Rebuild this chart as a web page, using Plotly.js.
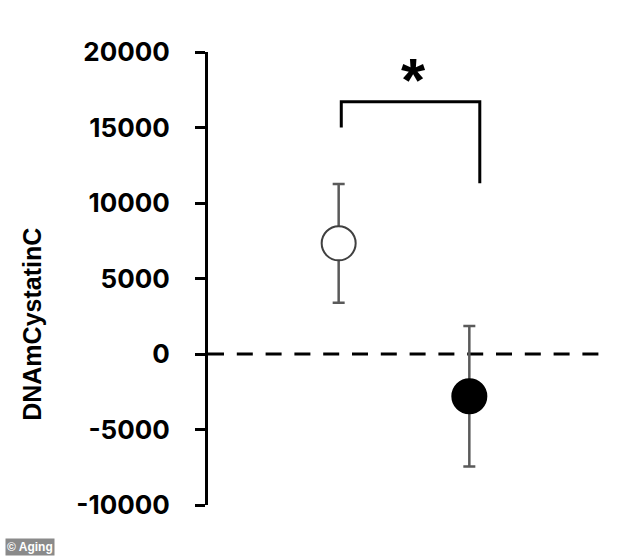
<!DOCTYPE html>
<html>
<head>
<meta charset="utf-8">
<script src="https://cdn.plot.ly/plotly-3.0.1.min.js"></script>
<style>html,body{margin:0;padding:0;background:#fff;}#chart{width:634px;height:557px;}</style>
</head>
<body>
<div id="chart"></div>
<script>
// Data
const groupX = [1, 2];
const groupMean = [7330, -2800];
const groupErr = [3930, 4650];
const markerFill = ['#ffffff', '#000000'];
const markerLine = ['#404040', '#000000'];

const yTickVals = [-10000, -5000, 0, 5000, 10000, 15000, 20000];
const yTickText = ['-10000', '-5000', '0', '5000', '10000', '15000', '20000'];

const bracketX = [1.02, 1.02, 2.08, 2.08];
const bracketY = [15000, 16700, 16700, 11300];
const starX = 1.57;
const starY = 18150;

const yTitle = 'DNAmCystatinC';
const credit = '© Aging';

const traces = [];
for (let i = 0; i < groupX.length; i++) {
  traces.push({
    type: 'scatter', mode: 'markers',
    x: [groupX[i]], y: [groupMean[i]],
    error_y: {type: 'data', array: [groupErr[i]], visible: true, color: '#5a5a5a', thickness: 2.5, width: 6},
    marker: {size: 34, color: markerFill[i], line: {color: markerLine[i], width: 2}},
    showlegend: false, hoverinfo: 'skip'
  });
}
traces.push({
  type: 'scatter', mode: 'lines', x: bracketX, y: bracketY,
  line: {color: '#000', width: 3}, showlegend: false, hoverinfo: 'skip'
});

const layout = {
  width: 634, height: 557,
  margin: {l: 208, r: 34, t: 52, b: 52},
  paper_bgcolor: '#fff', plot_bgcolor: '#fff',
  showlegend: false,
  xaxis: {range: [0, 3], visible: false, showgrid: false, zeroline: false},
  yaxis: {
    range: [-10000, 20000], tickvals: yTickVals, ticktext: yTickText,
    ticks: 'outside', ticklen: 10, tickwidth: 3, tickcolor: '#000',
    showline: true, linewidth: 3, linecolor: '#000',
    showgrid: false, zeroline: false, ticklabelstandoff: 20,
    tickfont: {family: 'Inter, Liberation Sans, Arial, sans-serif', size: 26, color: '#000', weight: 'bold'}
  },
  shapes: [{
    type: 'line', xref: 'paper', yref: 'y', x0: 0, x1: 1, y0: 0, y1: 0,
    line: {color: '#000', width: 3, dash: '16px,12.8px'}, layer: 'below'
  }],
  annotations: [
    {text: yTitle, xref: 'paper', yref: 'paper', x: -0.449, y: 0.40, textangle: -90,
     showarrow: false, xanchor: 'center', yanchor: 'middle',
     font: {family: 'Liberation Sans, Arial, sans-serif', size: 25, color: '#000', weight: 'bold'}},
    {text: '*', xref: 'x', yref: 'y', x: starX, y: starY, showarrow: false,
     xanchor: 'center', yanchor: 'middle',
     font: {family: 'Liberation Sans, Arial, sans-serif', size: 62, color: '#000', weight: 'bold'}},
    {text: credit, xref: 'paper', yref: 'paper', x: (5 - 208) / 392, y: -(556 - 505) / 453,
     xanchor: 'left', yanchor: 'bottom', showarrow: false, bgcolor: '#8a8a8a', borderpad: 1,
     font: {family: 'Liberation Sans, Arial, sans-serif', size: 12, color: '#fff', weight: 'bold'}}
  ]
};

Plotly.newPlot('chart', traces, layout, {displayModeBar: false, staticPlot: true});
</script>
</body>
</html>
